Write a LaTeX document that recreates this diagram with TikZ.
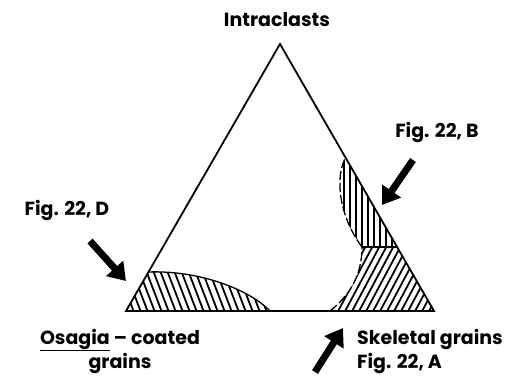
\documentclass[tikz,border=0pt]{standalone}
\usepackage{fontspec}
\setmainfont{Poppins}
\usetikzlibrary{arrows.meta}
\begin{document}
\begin{tikzpicture}[x=1pt,y=-1pt,
    lbl/.style={font=\fontsize{19}{24}\selectfont\bfseries, inner sep=0pt},
    fig arrow/.style={line width=7pt, -{Triangle[length=17pt,width=22pt]}},
    hatch/.style={line width=1.8pt},
    limit/.style={line width=1.3pt, dash pattern=on 9pt off 3pt}]
    \useasboundingbox (0,0) rectangle (523,389);
    % corners of the triangle
    \coordinate (apex) at (280,44);
    \coordinate (left) at (126,311);
    \coordinate (right) at (434,311);
    % fields
    \begin{scope}
        \clip (148,272) .. controls (200,270) and (250,290) .. (270,311) -- (left) -- cycle;
        \foreach \x in {100,107,...,300} \draw[hatch] (\x,260) -- (\x+23,320);
    \end{scope}
    \draw[line width=1.3pt] (148,272) .. controls (200,270) and (250,290) .. (270,311);
    \begin{scope}
        \clip (362,247) -- (397,247) -- (right) -- (330,311) .. controls (350,295) and (362,275) .. (362,247);
        \foreach \x in {280,287,...,440} \draw[hatch] (\x,315) -- (\x+40,240);
    \end{scope}
    \begin{scope}
        \clip (346,157) -- (397,247) -- (362,247) .. controls (338,215) and (335,175) .. (346,157);
        \foreach \x in {332,338,...,400} \draw[hatch] (\x,150) -- (\x,250);
    \end{scope}
    \draw[line width=1.3pt] (362,247) -- (397,247);
    \draw[limit] (330,311) .. controls (350,295) and (362,275) .. (362,247);
    \draw[limit] (362,247) .. controls (338,215) and (335,175) .. (346,157);
    \draw[line width=1.8pt, line join=miter] (apex) -- (left) -- (right) -- cycle;
    % labels
    \node[lbl] (intra) at (277,20) {Intraclasts};
    \node[lbl] (figB) at (437,132) {Fig. 22, B};
    \node[lbl] (figD) at (67,210) {Fig. 22, D};
    \node[lbl, align=center] (osagia) at (120,351) {\underline{Osagia} -- coated\\grains};
    \node[lbl, align=left, anchor=west] (skel) at (357,351) {Skeletal grains\\Fig. 22, A};
    % arrows
    \coordinate (tailB) at (413,160);
    \coordinate (tipB) at (382,205);
    \coordinate (tailD) at (90,241);
    \coordinate (tipD) at (126,281);
    \coordinate (tailA) at (315,372);
    \coordinate (tipA) at (343,328);
    \draw[fig arrow] (tailB) -- (tipB);
    \draw[fig arrow] (tailD) -- (tipD);
    \draw[fig arrow] (tailA) -- (tipA);
\end{tikzpicture}
\end{document}
